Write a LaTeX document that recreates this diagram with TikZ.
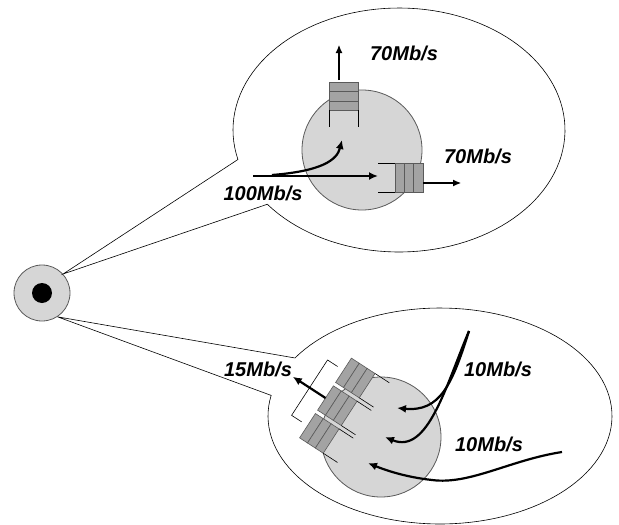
\documentclass[tikz,border=0pt]{standalone}
\usepackage{fontspec}
\setmainfont{Liberation Sans}
\usetikzlibrary{arrows.meta,positioning}
\definecolor{discgray}{HTML}{D6D6D6}
\definecolor{cellgray}{HTML}{A3A3A3}
\definecolor{rim}{HTML}{5A5A5A}
% packet queue: closed end at #1, turned by #2
\newcommand{\pktq}[2]{%
\begin{scope}[shift={#1},rotate=#2]
\foreach \k in {0,1,2} \draw[qcell] (\k*9.4,-14.5) rectangle ++(9.4,29);
\draw[qline] (28.2,-14.5) -- ++(17,0) (28.2,14.5) -- ++(17,0);
\end{scope}}

\begin{document}
\begin{tikzpicture}[x=1pt,y=-1pt,>=Latex,
 bub/.style={draw=black,fill=white,line width=.6pt},
 disc/.style={circle,draw=rim,fill=discgray,line width=.8pt,inner sep=0pt},
 qcell/.style={draw=rim,fill=cellgray,line width=.6pt},
 qline/.style={draw=black,line width=.6pt},
 fat/.style={->,line width=2.2pt,>={Latex[length=9pt,width=8pt]}},
 thin/.style={->,line width=1.1pt,>={Latex[length=8pt,width=7pt]}},
 rate/.style={font=\fontsize{20}{21}\selectfont\bfseries\itshape,inner sep=0pt}]
\useasboundingbox (0,0) rectangle (619,525);

% source
\node[disc,minimum size=56pt] (hub) at (42,293) {};
\node[circle,fill=black,minimum size=20pt,inner sep=0pt] (dot) at (hub) {};

% callouts
\draw[bub] plot[domain=166:502.5,samples=120] ({399+166*cos(\x)},{130+122*sin(\x)}) -- (hub.42) -- cycle;
\draw[bub] plot[domain=212.5:551,samples=120] ({440+172*cos(\x)},{416+108*sin(\x)}) -- (hub.-57) -- cycle;

% switches
\node[disc,minimum size=120pt] (upsw) at (362,150) {};
\node[disc,minimum size=120pt] (lowsw) at (381,437) {};

% upper switch
\coordinate (in100) at (253,176);
\coordinate (upin) at (378,176);
\coordinate (bend) at (272,175);
\coordinate (turn) at (342,140);
\draw[fat] (in100) -- (upin);
\draw[fat] (bend) .. controls (322,171) and (337,160) .. (turn);
\pktq{(343.5,82)}{-90}
\pktq{(423,178)}{180}
\coordinate (topq) at (339,80);
\coordinate (topout) at (339,45);
\coordinate (rq) at (423,183);
\coordinate (rout) at (461,183);
\draw[thin] (topq) -- (topout);
\draw[thin] (rq) -- (rout);
\node[rate] (r70a) at (404,53) {70Mb/s};
\node[rate] (r70b) at (478,156) {70Mb/s};
\node[rate] (r100) at (263,193) {100Mb/s};

% lower switch
\pktq{(343.5,370.3)}{-33}
\pktq{(325.5,398)}{-33}
\pktq{(307.5,425.7)}{-33}
\begin{scope}[shift={(325.5,398)},rotate=-33]
\draw[qline] (-7,-33) -- (-19,-33) -- (-19,33) -- (-7,33);
\coordinate (mq) at (0,0);
\coordinate (out15) at (-39,0);
\end{scope}
\draw[fat] (mq) -- (out15);
\coordinate (src10) at (469,331);
\coordinate (src10b) at (562,452);
\coordinate (endA) at (397,408);
\coordinate (endB) at (385,437);
\coordinate (endC) at (368,463);
\draw[fat] (src10) .. controls (452,385) and (440,412) .. (endA);
\draw[fat] (src10) .. controls (446,385) and (428,455) .. (endB);
\draw[fat] (src10b) .. controls (510,460) and (470,485) .. (432,480) .. controls (405,477) and (385,470) .. (endC);
\node[rate] (r15) at (258,369) {15Mb/s};
\node[rate] (r10a) at (498,369) {10Mb/s};
\node[rate] (r10b) at (489,444) {10Mb/s};
\end{tikzpicture}
\end{document}
